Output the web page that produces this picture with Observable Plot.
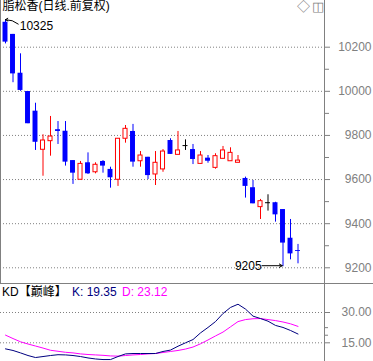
<!DOCTYPE html>
<html><head><meta charset="utf-8">
<script src="https://cdn.jsdelivr.net/npm/d3@7"></script>
<script src="https://cdn.jsdelivr.net/npm/@observablehq/plot@0.6"></script>
<style>
body{margin:0;background:#fff;font-family:"Liberation Sans","Noto Sans CJK SC",sans-serif;}
#wrap{position:relative;width:373px;height:361px;overflow:hidden;background:#fff;}
#wrap svg{position:absolute;left:0;background:transparent;}
.abs{position:absolute;white-space:nowrap;font-size:12px;line-height:14px;}
.ln{position:absolute;background:#808080;}
</style></head><body>
<div id="wrap"></div>
<script>
const title = "脂松香(日线.前复权)";
const kdTitle = "KD【巅峰】";
const opens  = [10313,10258,10082,9999,9910,9735,9774,9826,9819,9686,9599,9676,9633,9682,9646,9599,9785,9818,9683,9701,9623,9646,9777,9712,9754,9736,9671,9697,9653,9694,9683,9676,9605,9563,9475,9495,9495,9464,9334,9278];
const highs  = [10325,10258,10170,9999,9946,9803,9886,9863,9863,9686,9682,9721,9676,9686,9656,9785,9845,9850,9727,9701,9727,9736,9785,9818,9780,9759,9727,9709,9717,9750,9744,9709,9611,9596,9510,9531,9497,9464,9419,9306];
const lows   = [10215,10039,10000,9853,9732,9615,9706,9759,9661,9578,9599,9623,9626,9629,9561,9569,9765,9656,9656,9600,9573,9633,9714,9712,9732,9668,9671,9674,9647,9694,9683,9676,9516,9490,9419,9457,9407,9205,9236,9218];
const closes = [10223,10079,10004,9853,9769,9777,9795,9818,9679,9629,9671,9626,9667,9661,9608,9785,9830,9679,9709,9618,9676,9727,9714,9732,9754,9691,9709,9683,9706,9732,9721,9686,9569,9490,9502,9495,9440,9312,9263,9274];
const kValues = [12.0,11.2,10.0,8.7,7.7,8.2,8.7,9.1,9.0,8.7,8.2,7.5,7.0,6.7,6.7,8.2,9.5,9.7,9.7,9.7,9.7,10.7,11.4,13.3,15.0,16.6,19.9,22.6,25.5,29.5,32.5,34.1,31.7,28.2,27.0,25.7,23.6,22.6,21.1,19.35];
const dValues = [18.8,17.1,15.5,14.4,13.4,12.4,11.3,10.8,10.3,10.0,9.5,9.2,9.0,8.8,8.5,8.4,8.7,9.0,9.2,9.5,9.7,10.2,10.7,11.2,11.9,12.9,14.5,16.4,18.4,20.3,22.9,25.5,26.5,26.9,27.0,26.5,26.0,25.3,24.4,23.12];
const priceTicks = [9200,9400,9600,9800,10000,10200];
const priceMinorTicks = [9300,9500,9700,9900,10100];
const kdTicks = [15,30];
const kdMinorTicks = [18.75,22.5];

const BLUE = "#0000FF", RED = "#FF0000", GRAY = "#808080";
const FONT = '"Liberation Sans","Noto Sans CJK SC",sans-serif';

const candles = opens.map((o, i) => ({i, open: o, high: highs[i], low: lows[i], close: closes[i]}));
const colorOf = d => d.close > d.open ? RED : d.close < d.open ? BLUE : "#000000";
const downs = candles.filter(d => d.close < d.open);
const ups = candles.filter(d => d.close > d.open);
const dojis = candles.filter(d => d.close === d.open);
const topC = candles[d3.maxIndex(highs)];
const botC = candles[d3.minIndex(lows)];

const xDomain = [-0.667, 42.533];

const main = Plot.plot({
  width: 373, height: 283,
  marginTop: 0, marginBottom: 0, marginLeft: 0, marginRight: 49,
  style: {background: "transparent", color: GRAY, fontFamily: FONT, fontSize: "12px"},
  x: {domain: xDomain, axis: null},
  y: {domain: [9128.8, 10411.7]},
  marks: [
    Plot.ruleY(priceTicks, {stroke: GRAY, strokeDasharray: "1,2"}),
    Plot.axisY(priceTicks, {anchor: "right", tickSize: 5, tickPadding: 42, textAnchor: "end", tickFormat: d => String(d), fontSize: 12}),
    Plot.axisY(priceMinorTicks, {anchor: "right", tickSize: 4, tickFormat: () => ""}),
    Plot.ruleX(candles, {x: "i", y1: "low", y2: "high", stroke: colorOf, strokeWidth: 1}),
    Plot.rect(downs, {x1: d => d.i - 0.33, x2: d => d.i + 0.33, y1: "open", y2: "close", fill: BLUE}),
    Plot.rect(ups, {x1: d => d.i - 0.27, x2: d => d.i + 0.27, y1: "open", y2: "close", fill: "white", stroke: RED, strokeWidth: 1}),
    Plot.ruleY(dojis, {y: "open", x1: d => d.i - 0.33, x2: d => d.i + 0.33, stroke: "#000000"}),
    Plot.arrow([topC], {x1: d => d.i + 1.7, y1: d => d.high - 20, x2: d => d.i, y2: d => d.high, stroke: "#000000", strokeWidth: 1, headLength: 4, bend: -20}),
    Plot.text([topC], {x: d => d.i + 1.9, y: "high", dy: 7, text: d => String(d.high), textAnchor: "start", fill: "#000000", fontSize: 12}),
    Plot.arrow([botC], {x1: d => d.i - 2.8, x2: d => d.i - 0.1, y1: "low", y2: "low", dy: -1, stroke: "#000000", strokeWidth: 1, headLength: 5}),
    Plot.text([botC], {x: d => d.i - 2.85, y: "low", dy: -1, text: d => String(d.low), textAnchor: "end", fill: "#000000", fontSize: 12}),
    Plot.text([title], {frameAnchor: "top-left", text: d => d, dx: 2, dy: 1, textAnchor: "start", lineAnchor: "top", fill: "#000000", fontSize: 12}),
    Plot.text(["◇"], {frameAnchor: "top-right", text: d => d, dx: -21, dy: 1, textAnchor: "middle", lineAnchor: "top", fill: GRAY, fontSize: 13}),
    Plot.text(["◫"], {frameAnchor: "top-right", text: d => d, dx: -7, dy: 1, textAnchor: "middle", lineAnchor: "top", fill: GRAY, fontSize: 13})
  ]
});
main.style.top = "0px";

const kd = Plot.plot({
  width: 373, height: 78,
  marginTop: 0, marginBottom: 0, marginLeft: 0, marginRight: 49,
  style: {background: "transparent", color: GRAY, fontFamily: FONT, fontSize: "12px"},
  x: {domain: xDomain, axis: null},
  y: {domain: [5.74, 44.36]},
  marks: [
    Plot.ruleY(kdTicks, {stroke: GRAY, strokeDasharray: "1,2"}),
    Plot.axisY(kdTicks, {anchor: "right", tickSize: 5, tickPadding: 42, textAnchor: "end", tickFormat: d => d.toFixed(2), fontSize: 12}),
    Plot.axisY(kdMinorTicks, {anchor: "right", tickSize: 3, tickFormat: () => ""}),
    Plot.lineY(dValues, {x: (d, i) => i, y: d => d, stroke: "#FF00FF", strokeWidth: 1}),
    Plot.lineY(kValues, {x: (d, i) => i, y: d => d, stroke: "#000080", strokeWidth: 1})
  ]
});
kd.style.top = "283px";

const wrap = document.getElementById("wrap");
wrap.appendChild(main);
wrap.appendChild(kd);

function addLine(l, t, w, h) {
  const e = document.createElement("div");
  e.className = "ln";
  Object.assign(e.style, {left: l + "px", top: t + "px", width: w + "px", height: h + "px"});
  wrap.appendChild(e);
}
addLine(0, 0, 1, 283);
addLine(324, 0, 1, 361);
addLine(0, 283, 373, 1);

function addText(txt, l, t, color) {
  const e = document.createElement("div");
  e.className = "abs";
  e.textContent = txt;
  Object.assign(e.style, {left: l + "px", top: t + "px", color});
  wrap.appendChild(e);
}
addText(kdTitle, 2, 285, "#000000");
addText("K: " + kValues[kValues.length - 1].toFixed(2), 72, 285, "#000080");
addText("D: " + dValues[dValues.length - 1].toFixed(2), 122, 285, "#FF00FF");
</script>
</body></html>
